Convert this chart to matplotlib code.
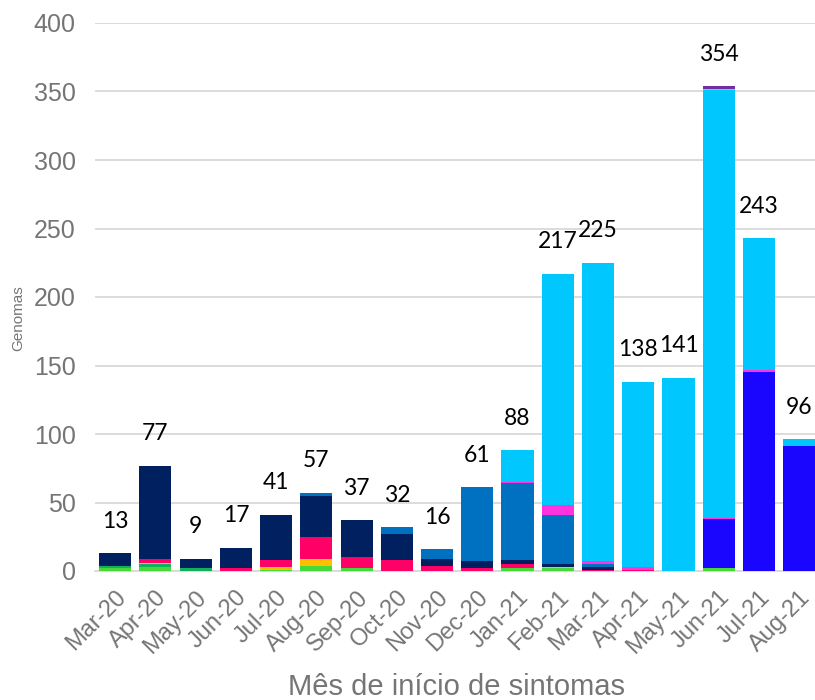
import matplotlib
matplotlib.use("Agg")
import matplotlib.pyplot as plt
import numpy as np

months = ["Mar-20", "Apr-20", "May-20", "Jun-20", "Jul-20", "Aug-20", "Sep-20",
          "Oct-20", "Nov-20", "Dec-20", "Jan-21", "Feb-21", "Mar-21", "Apr-21",
          "May-21", "Jun-21", "Jul-21", "Aug-21"]

lightgreen = [2, 3, 0, 0, 1, 4, 2, 0, 0, 0, 2, 2, 0, 0, 0, 2, 0, 0]
green      = [2, 2, 2, 0, 0, 0, 0, 0, 0, 0, 0, 0, 0, 0, 0, 0, 0, 0]
yellow     = [0, 1, 0, 0, 2, 5, 0, 0, 0, 0, 0, 1, 0, 0, 0, 0, 0, 0]
pink       = [0, 3, 0, 2, 5, 16, 8, 8, 4, 2, 3, 0, 1, 1, 0, 0, 0, 0]
navy       = [9, 68, 7, 15, 33, 30, 27, 19, 5, 5, 3, 2, 2, 0, 0, 0, 0, 0]
blue       = [0, 0, 0, 0, 0, 2, 0, 5, 7, 54, 56, 36, 2, 0, 0, 0, 0, 0]
deepblue   = [0, 0, 0, 0, 0, 0, 0, 0, 0, 0, 0, 0, 0, 0, 0, 36, 145, 91]
magenta    = [0, 0, 0, 0, 0, 0, 0, 0, 0, 0, 1, 7, 2, 2, 0, 1, 2, 0]
cyan       = [0, 0, 0, 0, 0, 0, 0, 0, 0, 0, 23, 169, 218, 135, 141, 312, 96, 5]
lavender   = [0, 0, 0, 0, 0, 0, 0, 0, 0, 0, 0, 0, 0, 0, 0, 1, 0, 0]
purple     = [0, 0, 0, 0, 0, 0, 0, 0, 0, 0, 0, 0, 0, 0, 0, 2, 0, 0]

series = [
    (lightgreen, "#47D93A"),
    (green, "#12B05A"),
    (yellow, "#FFC000"),
    (pink, "#FF0066"),
    (navy, "#002060"),
    (blue, "#0070C0"),
    (deepblue, "#1A06FF"),
    (magenta, "#FF33DD"),
    (cyan, "#00C8FF"),
    (lavender, "#A8B4F0"),
    (purple, "#7030A0"),
]

fig = plt.figure(figsize=(8.15, 7.0), dpi=100)
ax = fig.add_axes([95 / 815, 129 / 700, 720 / 815, 548 / 700])

x = np.arange(len(months))
bottom = np.zeros(len(months))
for vals, col in series:
    v = np.array(vals, dtype=float)
    ax.bar(x, v, bottom=bottom, width=0.8, color=col, zorder=3, linewidth=0)
    bottom += v

for i, tot in enumerate(bottom):
    ax.annotate(f"{int(tot)}", xy=(i, tot), xytext=(0, 23), textcoords="offset points",
                ha="center", va="center", fontsize=16.5, family=["Lato", "DejaVu Sans"],
                color="black")

ax.set_xlim(-0.5, 17.39)
ax.set_ylim(0, 400)
ax.set_yticks(np.arange(0, 401, 50))
ax.yaxis.grid(True, color="#D9D9D9", linewidth=1.3, zorder=0)
ax.set_axisbelow(True)
for s in ["top", "right", "left"]:
    ax.spines[s].set_visible(False)
ax.spines["bottom"].set_color("#D9D9D9")
ax.spines["bottom"].set_linewidth(1.3)
ax.tick_params(axis="both", length=0, colors="#757575")
ax.tick_params(axis="y", pad=14, labelsize=18)
ax.set_xticks(x)
ax.set_xticklabels(months, rotation=45, ha="right", va="top", rotation_mode="anchor",
                   fontsize=17, family="Liberation Sans", color="#757575")
for lab in ax.get_yticklabels():
    lab.set_family("Liberation Sans")
ax.tick_params(axis="x", pad=11)

fig.text(456 / 815, 1 - 687 / 700, "Mês de início de sintomas", ha="center", va="center",
         fontsize=21, family="Liberation Sans", color="#757575")
fig.text(18 / 815, 1 - 318 / 700, "Genomas", ha="center", va="center", rotation=90,
         fontsize=11, family="Liberation Sans", color="#757575")

fig.savefig("out.png", dpi=100)
